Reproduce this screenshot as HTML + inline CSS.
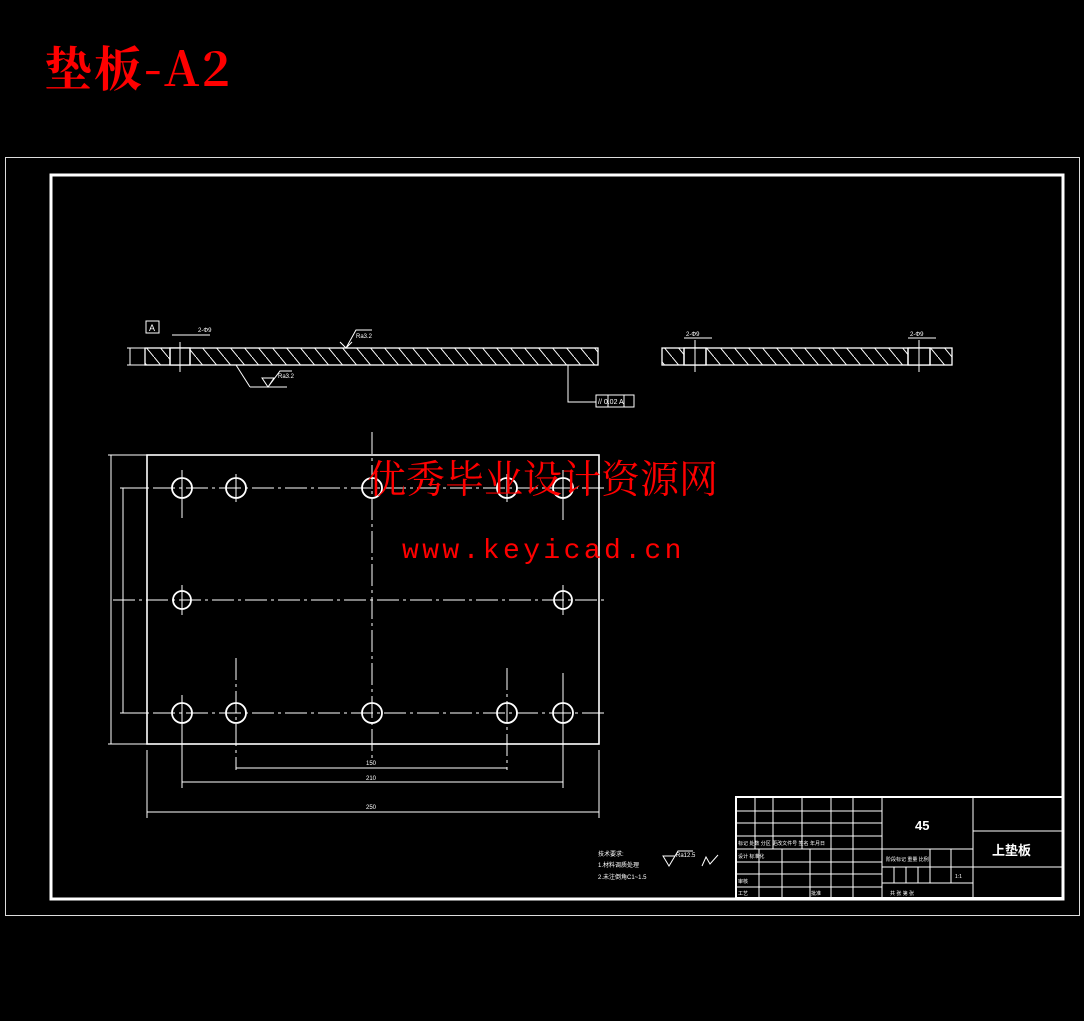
<!DOCTYPE html>
<html><head><meta charset="utf-8"><style>
html,body{margin:0;padding:0;background:#000;width:1084px;height:1021px;overflow:hidden}
svg{display:block}
</style></head><body>
<svg width="1084" height="1021" viewBox="0 0 1084 1021" xmlns="http://www.w3.org/2000/svg">
<defs>
<pattern id="h" width="14" height="17" patternUnits="userSpaceOnUse">
<line x1="0" y1="0" x2="14" y2="17" stroke="#fff" stroke-width="1"/>
</pattern>
</defs>
<text x="44" y="86" fill="#f00" font-family="'Noto Serif CJK SC','Liberation Mono',serif" font-size="48" font-weight="bold" letter-spacing="2">垫板-A2</text>
<rect x="5.5" y="157.5" width="1074" height="758" fill="none" stroke="#ddd" stroke-width="1"/>
<rect x="51" y="175" width="1012" height="724" fill="none" stroke="#fff" stroke-width="3"/>
<g stroke="#fff" fill="none" stroke-width="1.3">
<rect x="145" y="348" width="453" height="17" fill="url(#h)"/>
<rect x="170" y="348" width="20" height="17" fill="#000"/>
<line x1="170" y1="348" x2="170" y2="365"/><line x1="190" y1="348" x2="190" y2="365"/>
<line x1="180" y1="342" x2="180" y2="372" stroke-width="1"/>
<line x1="172" y1="335" x2="210" y2="335" stroke-width="1"/>
<line x1="127" y1="348" x2="145" y2="348" stroke-width="1"/><line x1="127" y1="365" x2="145" y2="365" stroke-width="1"/>
<line x1="130" y1="348" x2="130" y2="365" stroke-width="1"/>
<rect x="146" y="321" width="13" height="12" stroke-width="1"/>
<line x1="236" y1="365" x2="250" y2="387" stroke-width="1"/><line x1="250" y1="387" x2="287" y2="387" stroke-width="1"/>
<path d="M262 378 L268 387 L274 378 Z M268 387 L280 371 L292 371" stroke-width="1"/>
<path d="M340 342 L346 348 L352 342 M346 348 L356 330 L372 330" stroke-width="1"/>
<path d="M568 365 L568 402 L596 402" stroke-width="1"/>
<rect x="596" y="395" width="38" height="12" stroke-width="1"/>
<line x1="608" y1="395" x2="608" y2="407" stroke-width="1"/><line x1="624" y1="395" x2="624" y2="407" stroke-width="1"/>
<rect x="662" y="348" width="290" height="17" fill="url(#h)"/>
<rect x="684" y="348" width="22" height="17" fill="#000"/>
<rect x="908" y="348" width="22" height="17" fill="#000"/>
<line x1="684" y1="348" x2="684" y2="365"/><line x1="706" y1="348" x2="706" y2="365"/>
<line x1="908" y1="348" x2="908" y2="365"/><line x1="930" y1="348" x2="930" y2="365"/>
<line x1="695" y1="340" x2="695" y2="372" stroke-width="1"/><line x1="919" y1="340" x2="919" y2="372" stroke-width="1"/>
<line x1="684" y1="338" x2="712" y2="338" stroke-width="1"/><line x1="908" y1="338" x2="936" y2="338" stroke-width="1"/>
<rect x="147" y="455" width="452" height="289" stroke-width="1.6"/>
<g stroke-width="1" stroke-dasharray="22,4,3,4">
<line x1="120" y1="488" x2="605" y2="488"/>
<line x1="113" y1="600" x2="605" y2="600"/>
<line x1="120" y1="713" x2="605" y2="713"/>
<line x1="372" y1="432" x2="372" y2="760"/>
<line x1="236" y1="658" x2="236" y2="770"/>
<line x1="507" y1="668" x2="507" y2="770"/>
</g>
<g stroke-width="1">
<line x1="182" y1="470" x2="182" y2="518"/><line x1="236" y1="474" x2="236" y2="502"/>
<line x1="507" y1="474" x2="507" y2="502"/><line x1="563" y1="470" x2="563" y2="520"/>
<line x1="182" y1="585" x2="182" y2="615"/><line x1="563" y1="585" x2="563" y2="615"/>
<line x1="182" y1="695" x2="182" y2="788"/><line x1="563" y1="673" x2="563" y2="788"/>
<line x1="147" y1="750" x2="147" y2="818"/><line x1="599" y1="750" x2="599" y2="818"/>
<line x1="236" y1="768" x2="507" y2="768"/>
<line x1="182" y1="782" x2="563" y2="782"/>
<line x1="147" y1="812" x2="599" y2="812"/>
<line x1="108" y1="455" x2="147" y2="455"/><line x1="108" y1="744" x2="147" y2="744"/>
<line x1="111" y1="455" x2="111" y2="744"/>
<line x1="120" y1="488" x2="147" y2="488"/><line x1="120" y1="713" x2="147" y2="713"/>
<line x1="123" y1="488" x2="123" y2="713"/>
</g>
<g stroke-width="1.8">
<circle cx="182" cy="488" r="10"/><circle cx="236" cy="488" r="10"/><circle cx="372" cy="488" r="10"/><circle cx="507" cy="488" r="10"/><circle cx="563" cy="488" r="10"/>
<circle cx="182" cy="600" r="9"/><circle cx="563" cy="600" r="9"/>
<circle cx="182" cy="713" r="10"/><circle cx="236" cy="713" r="10"/><circle cx="372" cy="713" r="10"/><circle cx="507" cy="713" r="10"/><circle cx="563" cy="713" r="10"/>
</g>
<path d="M663 856 L669 866 L675 856 Z M669 866 L678 851 L693 851" stroke-width="1"/>
<path d="M702 866 L706 857 L710 864 L718 855" stroke-width="1"/>
<rect x="736" y="797" width="327" height="101" stroke-width="2"/>
<g stroke-width="1">
<line x1="737" y1="811" x2="882" y2="811"/><line x1="737" y1="823" x2="882" y2="823"/>
<line x1="737" y1="836" x2="882" y2="836"/><line x1="737" y1="849" x2="973" y2="849"/>
<line x1="737" y1="862" x2="882" y2="862"/><line x1="737" y1="874" x2="882" y2="874"/>
<line x1="737" y1="887" x2="882" y2="887"/>
<line x1="882" y1="867" x2="1063" y2="867"/><line x1="882" y1="883" x2="973" y2="883"/>
<line x1="973" y1="831" x2="1063" y2="831"/>
<line x1="755" y1="797" x2="755" y2="849"/><line x1="773" y1="797" x2="773" y2="849"/>
<line x1="802" y1="797" x2="802" y2="849"/><line x1="831" y1="797" x2="831" y2="898"/>
<line x1="853" y1="797" x2="853" y2="898"/>
<line x1="759" y1="849" x2="759" y2="898"/><line x1="782" y1="849" x2="782" y2="898"/>
<line x1="810" y1="849" x2="810" y2="898"/>
<line x1="882" y1="797" x2="882" y2="898"/><line x1="973" y1="797" x2="973" y2="898"/>
<line x1="894" y1="867" x2="894" y2="883"/><line x1="906" y1="867" x2="906" y2="883"/><line x1="918" y1="867" x2="918" y2="883"/>
<line x1="930" y1="849" x2="930" y2="883"/><line x1="951" y1="849" x2="951" y2="883"/>
</g>
</g>
<g fill="#fff" font-family="'Liberation Sans','Noto Sans CJK SC',sans-serif">
<text x="149" y="331" font-size="9">A</text>
<text x="198" y="332" font-size="6">2-Φ9</text>
<text x="356" y="338" font-size="6">Ra3.2</text>
<text x="278" y="378" font-size="6">Ra3.2</text>
<text x="598" y="404" font-size="7">//  0.02  A</text>
<text x="686" y="336" font-size="6">2-Φ9</text>
<text x="910" y="336" font-size="6">2-Φ9</text>
<text x="366" y="765" font-size="6">150</text>
<text x="366" y="780" font-size="6">210</text>
<text x="366" y="809" font-size="6">250</text>
<text x="676" y="857" font-size="6">Ra12.5</text>
<text x="598" y="856" font-size="6">技术要求:</text>
<text x="598" y="867" font-size="6">1.材料调质处理</text>
<text x="598" y="879" font-size="6">2.未注倒角C1~1.5</text>
<text x="915" y="830" font-size="13" font-weight="bold">45</text>
<text x="992" y="855" font-size="13" font-weight="bold">上垫板</text>
<text x="955" y="878" font-size="5">1:1</text>
<text x="738" y="845" font-size="5">标记 处数 分区 更改文件号 签名 年月日</text>
<text x="738" y="858" font-size="5">设计 标准化</text>
<text x="738" y="883" font-size="5">审核</text>
<text x="738" y="895" font-size="5">工艺</text>
<text x="811" y="895" font-size="5">批准</text>
<text x="886" y="861" font-size="5">阶段标记  重量 比例</text>
<text x="890" y="895" font-size="5">共 张 第 张</text>
</g>
<text x="367" y="493" fill="#f00" font-family="'Noto Serif CJK SC',serif" font-size="39">优秀毕业设计资源网</text>
<text x="402" y="558" fill="#f00" font-family="'Liberation Mono',monospace" font-size="28" letter-spacing="3.4">www.keyicad.cn</text>
</svg>
</body></html>
